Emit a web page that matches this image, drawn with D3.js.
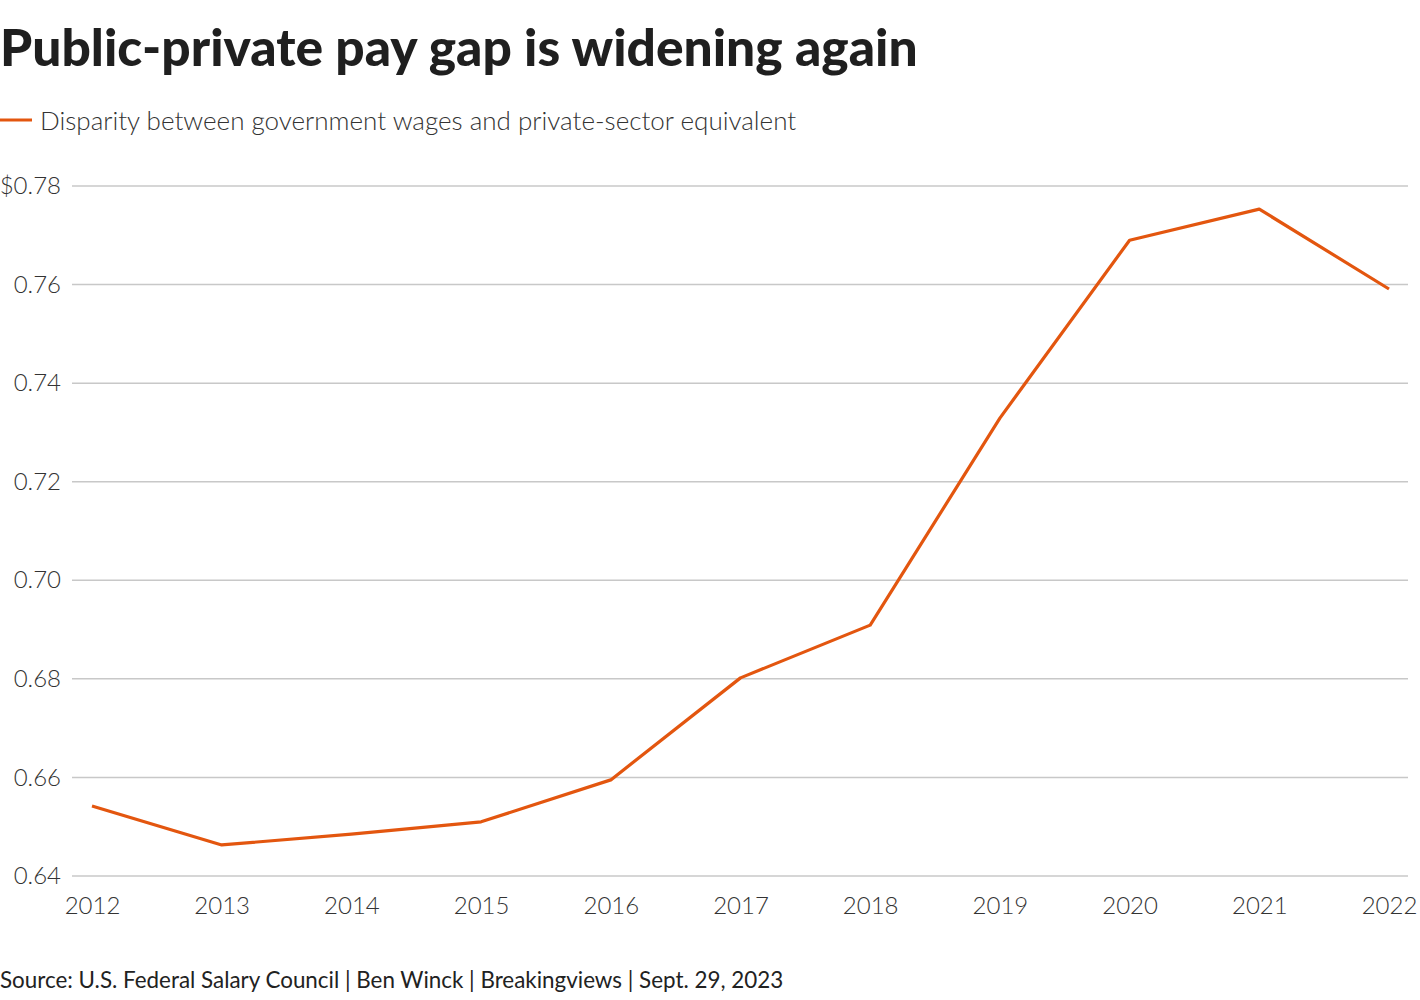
<!DOCTYPE html>
<meta charset="utf-8">
<style>
body{
  margin: 0;
  background: white;
  font-family: Lato, "Noto Sans", sans-serif;
}
.grid line{ stroke: #c8c8c8; stroke-width: 1.5px; }
.tick text{ fill: #333; font-family: Lato, sans-serif; font-weight: 300; font-size: 24px; }
</style>
<body>
<div id='chart'></div>
<script src="https://cdn.jsdelivr.net/npm/d3@7"></script>
<script>

var years = [2012, 2013, 2014, 2015, 2016, 2017, 2018, 2019, 2020, 2021, 2022]
var gap = [0.6542, 0.6463, 0.6485, 0.6510, 0.6595, 0.6802, 0.6909, 0.7329, 0.7690, 0.7753, 0.7591]
var yTicks = [0.64, 0.66, 0.68, 0.70, 0.72, 0.74, 0.76, 0.78]

var width = 1420,
    height = 1000,
    orange = '#e3560f'

var svg = d3.select('#chart')
  .append('svg')
    .attr('width', width)
    .attr('height', height)

var x = d3.scaleLinear().domain([2012, 2022]).range([92, 1389])
var y = d3.scaleLinear().domain([0.64, 0.78]).range([876, 186])

svg.append('text')
    .attr('x', 0).attr('y', 66)
    .style('font-size', '51.5px').style('font-weight', 900).style('fill', '#1f1f1f')
    .text('Public-private pay gap is widening again')

svg.append('line')
    .attr('x1', 0).attr('x2', 32).attr('y1', 120).attr('y2', 120)
    .style('stroke', orange).style('stroke-width', 3)

svg.append('text')
    .attr('x', 40).attr('y', 130)
    .style('font-size', '26px').style('font-weight', 300).style('fill', '#333')
    .text('Disparity between government wages and private-sector equivalent')

// gridlines
svg.append('g')
    .attr('class', 'grid')
  .selectAll('line')
  .data(yTicks)
  .enter().append('line')
    .attr('x1', 72).attr('x2', 1408)
    .attr('y1', y).attr('y2', y)

var yAxis = svg.append('g')
    .attr('transform', 'translate(61,0)')
    .call(d3.axisLeft(y).tickValues(yTicks).tickSize(0).tickPadding(0)
      .tickFormat(function(d){ return (d == 0.78 ? '$' : '') + d3.format('.2f')(d) }))
yAxis.select('.domain').remove()

var xAxis = svg.append('g')
    .attr('transform', 'translate(0,891)')
    .call(d3.axisBottom(x).tickValues(years).tickSize(0).tickPadding(6).tickFormat(d3.format('d')))
xAxis.select('.domain').remove()

var line = d3.line()
    .x(function(d, i){ return x(years[i]) })
    .y(function(d){ return y(d) })

svg.append('path')
    .datum(gap)
    .attr('d', line)
    .style('fill', 'none')
    .style('stroke', orange)
    .style('stroke-width', 3.2)
    .style('stroke-linejoin', 'round')

svg.append('text')
    .attr('x', 0).attr('y', 988)
    .style('font-size', '22.4px').style('fill', '#222')
    .text('Source: U.S. Federal Salary Council | Ben Winck | Breakingviews | Sept. 29, 2023')

</script>
